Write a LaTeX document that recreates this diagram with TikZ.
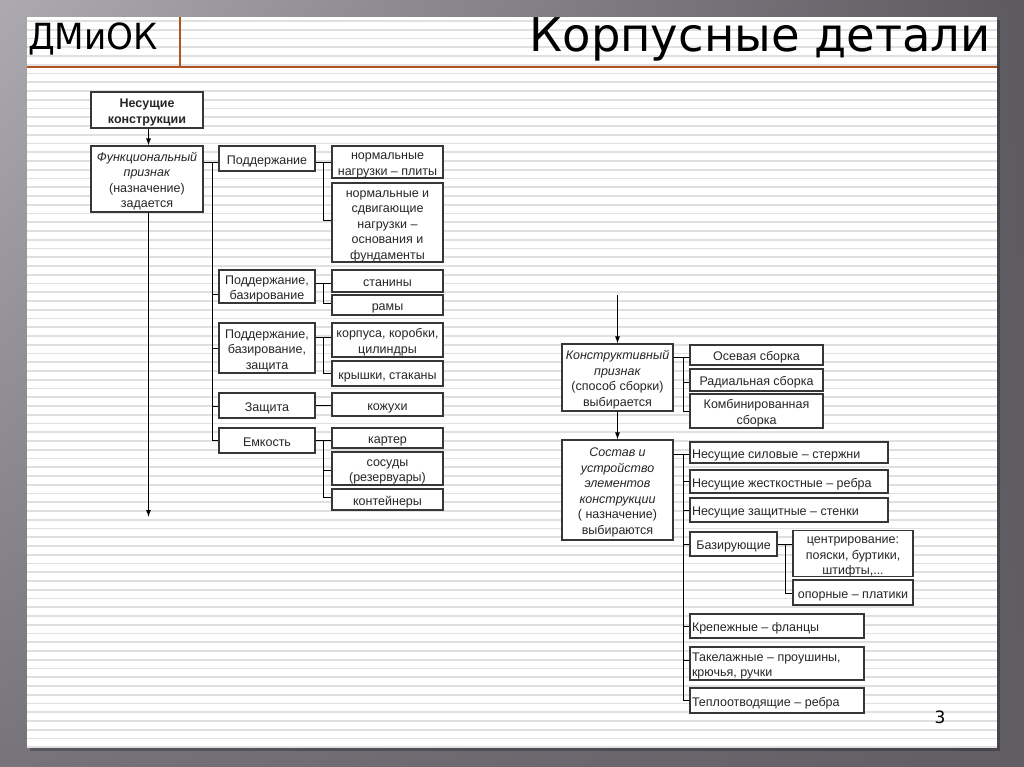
\documentclass[tikz,border=0pt]{standalone}
\usepackage{fontspec}
\setmainfont{Liberation Sans}
\newfontfamily\titlefont{DejaVu Sans}
\usetikzlibrary{arrows.meta,calc,shadings}
\definecolor{bgUL}{RGB}{172,169,177}
\definecolor{bgUR}{RGB}{92,89,95}
\definecolor{bgLL}{RGB}{118,115,122}
\definecolor{bgLR}{RGB}{96,93,99}
\definecolor{rust}{RGB}{176,84,32}
\definecolor{stripe}{RGB}{224,224,224}
\definecolor{boxline}{RGB}{55,55,55}
\tikzset{
  box/.style={draw=boxline,line width=1.1pt,fill=white,inner xsep=1.5pt,inner ysep=0pt,
    font=\fontsize{12.5}{15.5}\selectfont,text=black!85},
  conn/.style={draw=black,line width=0.9pt},
  arr/.style={conn,-{Latex[length=7pt,width=5pt]}},
}
\newcommand\bx[6]{\node[box,minimum width={#4-#2},minimum height={#5-#3}] (#1) at ({(#2+#4)/2},{(#3+#5)/2})
  {\raisebox{-2.5pt}[\height][\depth]{\begin{tabular}{@{}c@{}}#6\end{tabular}}};}
\newcommand\lbx[6]{\node[box,minimum width={#4-#2},minimum height={#5-#3}] (#1) at ({(#2+#4)/2},{(#3+#5)/2})
  {\raisebox{-2.5pt}[\height][\depth]{\begin{tabular}{@{}p{\dimexpr #4pt-#2pt-4pt\relax}@{}}#6\end{tabular}}};}
\begin{document}
\begin{tikzpicture}[x=1pt,y=-1pt]
\useasboundingbox (0,0) rectangle (1024,767);
% background
\shade[upper left=bgUL,upper right=bgUR,lower left=bgLL,lower right=bgLR] (0,0) rectangle (1024,767);
\fill[black,opacity=0.25] (30,20) rectangle (1000,751);
\fill[white] (27,17) rectangle (997,748);
\foreach \i in {0,...,83} {\draw[stripe,line width=1.8pt] (27,{21+\i*8.75}) -- (997,{21+\i*8.75});}
% title bar
\draw[rust,line width=2.4pt] (27,67) -- (997,67);
\draw[rust,line width=1.4pt] (180,17) -- (180,67);
\node[anchor=base west,inner sep=0pt,font=\titlefont\fontsize{36}{40}\selectfont] (hd) at (28,50) {\scalebox{0.95}[1]{ДМиОК}};
\node[anchor=base east,inner sep=0pt,font=\titlefont\fontsize{46.5}{50}\selectfont] (ttl) at (991,52) {Корпусные детали};
\node[anchor=base,inner sep=0pt,font=\titlefont\fontsize{17}{20}\selectfont] (pg) at (940,723) {3};
% left tree
\bx{nk}{91}{92}{203}{128}{\textbf{Несущие}\\\textbf{конструкции}}
\bx{fp}{91}{146}{203}{212}{\textit{Функциональный}\\\textit{признак}\\(назначение)\\задается}
\bx{p1}{219}{146}{315}{171}{Поддержание}
\bx{p2}{219}{270}{315}{303}{Поддержание,\\базирование}
\bx{p3}{219}{323}{315}{373}{Поддержание,\\базирование,\\защита}
\bx{p4}{219}{393}{315}{418}{Защита}
\bx{p5}{219}{428}{315}{453}{Емкость}
\bx{s11}{332}{146}{443}{178}{нормальные\\нагрузки – плиты}
\bx{s12}{332}{183}{443}{262}{нормальные и\\сдвигающие\\нагрузки –\\основания и\\фундаменты}
\bx{s21}{332}{270}{443}{292}{станины}
\bx{s22}{332}{295}{443}{315}{рамы}
\bx{s31}{332}{323}{443}{357}{корпуса, коробки,\\цилиндры}
\bx{s32}{332}{361}{443}{386}{крышки, стаканы}
\bx{s41}{332}{393}{443}{416}{кожухи}
\bx{s51}{332}{428}{443}{448}{картер}
\bx{s52}{332}{452}{443}{485}{сосуды\\(резервуары)}
\bx{s53}{332}{489}{443}{510}{контейнеры}
\coordinate (lend) at (148.5,517);
\draw[arr] (nk.south -| lend) -- (fp.north -| lend);
\draw[arr] (fp.south -| lend) -- (lend);
\draw[conn] (fp.east |- 0,162) -- (212,162) -- (212,440) -- (p5.west |- 0,440);
\draw[conn] (212,162) -- (p1.west |- 0,162);
\draw[conn] (212,294) -- (p2.west |- 0,294);
\draw[conn] (212,348) -- (p3.west |- 0,348);
\draw[conn] (212,406) -- (p4.west |- 0,406);
\draw[conn] (p1.east |- 0,162) -- (s11.west |- 0,162);
\draw[conn] (323,162) -- (323,220) -- (s12.west |- 0,220);
\draw[conn] (p2.east |- 0,283) -- (s21.west |- 0,283);
\draw[conn] (323,283) -- (323,303) -- (s22.west |- 0,303);
\draw[conn] (p3.east |- 0,337) -- (s31.west |- 0,337);
\draw[conn] (323,337) -- (323,373) -- (s32.west |- 0,373);
\draw[conn] (p4.east |- 0,405) -- (s41.west |- 0,405);
\draw[conn] (p5.east |- 0,440) -- (s51.west |- 0,440);
\draw[conn] (323,440) -- (323,497) -- (s53.west |- 0,497);
\draw[conn] (323,470) -- (s52.west |- 0,470);
% right tree
\bx{kp}{562}{344}{673}{411}{\textit{Конструктивный}\\\textit{признак}\\(способ сборки)\\выбирается}
\bx{sp}{562}{440}{673}{540}{\textit{Состав и}\\\textit{устройство}\\\textit{элементов}\\\textit{конструкции}\\( назначение)\\выбираются}
\bx{k1}{690}{345}{823}{365}{Осевая сборка}
\bx{k2}{690}{369}{823}{391}{Радиальная сборка}
\bx{k3}{690}{394}{823}{428}{Комбинированная\\сборка}
\lbx{r1}{690}{442}{888}{463}{Несущие силовые – стержни}
\lbx{r2}{690}{470}{888}{493}{Несущие жесткостные – ребра}
\lbx{r3}{690}{498}{888}{522}{Несущие защитные – стенки}
\bx{r4}{690}{532}{777}{556}{Базирующие}
\bx{r41}{793}{531}{913}{576}{центрирование:\\пояски, буртики,\\штифты,...}
\bx{r42}{793}{580}{913}{605}{опорные – платики}
\lbx{r5}{690}{614}{864}{638}{Крепежные – фланцы}
\lbx{r6}{690}{647}{864}{680}{Такелажные – проушины,\\крючья, ручки}
\lbx{r7}{690}{688}{864}{713}{Теплоотводящие – ребра}
\coordinate (ktop) at (617.5,295);
\draw[arr] (ktop) -- (kp.north);
\draw[arr] (kp.south) -- (sp.north);
\draw[conn] (kp.east |- 0,357) -- (k1.west |- 0,357);
\draw[conn] (683,357) -- (683,411) -- (k3.west |- 0,411);
\draw[conn] (683,382) -- (k2.west |- 0,382);
\draw[conn] (sp.east |- 0,454) -- (r1.west |- 0,454);
\draw[conn] (683,454) -- (683,700) -- (r7.west |- 0,700);
\draw[conn] (683,481) -- (r2.west |- 0,481);
\draw[conn] (683,510) -- (r3.west |- 0,510);
\draw[conn] (683,544) -- (r4.west |- 0,544);
\draw[conn] (683,626) -- (r5.west |- 0,626);
\draw[conn] (683,660) -- (r6.west |- 0,660);
\draw[conn] (r4.east |- 0,544) -- (r41.west |- 0,544);
\draw[conn] (785,544) -- (785,593) -- (r42.west |- 0,593);
\end{tikzpicture}
\end{document}
